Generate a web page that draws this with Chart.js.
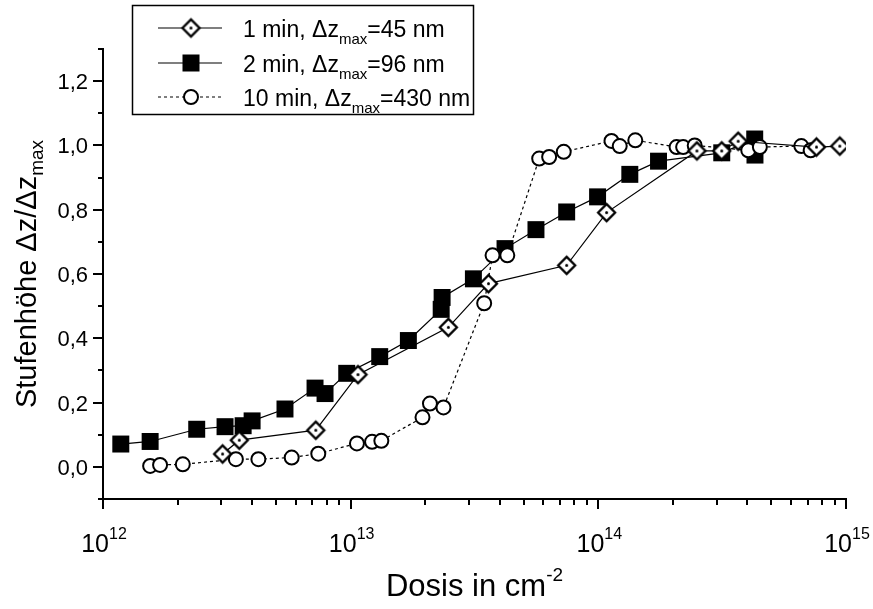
<!DOCTYPE html>
<html><head><meta charset="utf-8">
<script src="https://cdn.jsdelivr.net/npm/chart.js@4.4.1/dist/chart.umd.min.js"></script>
<style>html,body{margin:0;padding:0;background:#fff;}#wrap{width:873px;height:609px;}</style>
</head><body><div id="wrap"><canvas id="c" width="873" height="609"></canvas></div>
<script>
// ---- data (dose in cm^-2, normalized step height) ----
const dose1min = [3.04e12, 3.55e12, 7.23e12, 1.07e13, 2.48e13, 3.6e13, 7.45e13, 1.08e14, 2.5e14, 3.15e14, 3.67e14, 7.6e14, 9.44e14];
const step1min = [0.040, 0.083, 0.114, 0.287, 0.434, 0.570, 0.627, 0.791, 0.983, 0.983, 1.013, 0.995, 0.998];

const dose2min = [1.18e12, 1.55e12, 2.39e12, 3.11e12, 3.68e12, 4.0e12, 5.43e12, 7.18e12, 7.88e12, 9.64e12, 1.31e13, 1.71e13, 2.32e13, 2.34e13, 3.13e13, 4.2e13, 5.6e13, 7.45e13, 9.93e13, 1.34e14, 1.75e14, 3.15e14, 4.28e14, 4.29e14];
const step2min = [0.071, 0.079, 0.117, 0.125, 0.128, 0.143, 0.180, 0.245, 0.228, 0.291, 0.343, 0.393, 0.490, 0.527, 0.585, 0.679, 0.738, 0.793, 0.840, 0.910, 0.951, 0.977, 1.020, 0.970];

const dose10min = [1.55e12, 1.7e12, 2.1e12, 3.44e12, 4.24e12, 5.78e12, 7.4e12, 1.06e13, 1.22e13, 1.33e13, 1.95e13, 2.09e13, 2.37e13, 3.46e13, 3.74e13, 4.29e13, 5.77e13, 6.33e13, 7.25e13, 1.13e14, 1.22e14, 1.41e14, 2.07e14, 2.2e14, 2.45e14, 4.03e14, 4.49e14, 6.6e14, 7.2e14];
const step10min = [0.003, 0.006, 0.008, 0.024, 0.024, 0.029, 0.041, 0.073, 0.078, 0.081, 0.154, 0.197, 0.185, 0.509, 0.658, 0.658, 0.959, 0.964, 0.980, 1.014, 0.998, 1.016, 0.995, 0.995, 1.000, 0.985, 0.995, 0.998, 0.985];

const xTickExponents = [12, 13, 14, 15];
const xMinorMultipliers = [2, 3, 4, 5, 6, 7, 8, 9];
const yTickValues = [0.0, 0.2, 0.4, 0.6, 0.8, 1.0, 1.2];
const yTickLabels = ['0,0', '0,2', '0,4', '0,6', '0,8', '1,0', '1,2'];
const yMinorValues = [-0.1, 0.1, 0.3, 0.5, 0.7, 0.9, 1.1, 1.3];

const legendEntries = [
  {pre: '1 min, \u0394z', sub: 'max', post: '=45 nm', marker: 'diamond', dash: []},
  {pre: '2 min, \u0394z', sub: 'max', post: '=96 nm', marker: 'square', dash: []},
  {pre: '10 min, \u0394z', sub: 'max', post: '=430 nm', marker: 'circle', dash: [3, 3]}
];

const FONT = "'Liberation Sans', Arial, Helvetica, sans-serif";

// ---- marker images ----
function makeDiamond(r) {
  const s = Math.ceil(2 * r + 6);
  const c = document.createElement('canvas');
  c.width = s; c.height = s;
  const g = c.getContext('2d');
  const m = s / 2;
  g.beginPath();
  g.moveTo(m - r, m); g.lineTo(m, m - r); g.lineTo(m + r, m); g.lineTo(m, m + r); g.closePath();
  g.fillStyle = '#fff'; g.fill();
  g.lineWidth = 2.3; g.strokeStyle = '#000'; g.lineJoin = 'miter'; g.stroke();
  g.beginPath(); g.arc(m, m, 1.5, 0, Math.PI * 2); g.fillStyle = '#000'; g.fill();
  return c;
}
const diamondImg = makeDiamond(8.5);

function toPts(xs, ys) { return xs.map((x, i) => ({x: x, y: ys[i]})); }

function drawMarker(ctx, type, x, y) {
  ctx.save();
  if (type === 'diamond') {
    ctx.drawImage(diamondImg, x - diamondImg.width / 2, y - diamondImg.height / 2);
  } else if (type === 'square') {
    ctx.fillStyle = '#000';
    ctx.fillRect(x - 8.5, y - 8.5, 17, 17);
  } else {
    ctx.beginPath(); ctx.arc(x, y, 7, 0, Math.PI * 2);
    ctx.fillStyle = '#fff'; ctx.fill();
    ctx.lineWidth = 2; ctx.strokeStyle = '#000'; ctx.stroke();
  }
  ctx.restore();
}

function richWidth(ctx, parts) {
  let w = 0;
  for (const p of parts) { ctx.font = p.size + 'px ' + FONT; w += ctx.measureText(p.t).width; }
  return w;
}
function drawRich(ctx, parts, x, y) {
  let cx = x;
  for (const p of parts) {
    ctx.font = p.size + 'px ' + FONT;
    ctx.fillText(p.t, cx, y + (p.dy || 0));
    cx += ctx.measureText(p.t).width;
  }
}

const decorPlugin = {
  id: 'decor',
  afterDraw(chart) {
    const ctx = chart.ctx;
    const xs = chart.scales.x, ys = chart.scales.y;
    const area = chart.chartArea;
    ctx.save();
    ctx.strokeStyle = '#000';
    ctx.fillStyle = '#000';
    ctx.lineWidth = 2;
    ctx.lineCap = 'butt';
    ctx.beginPath();
    for (const v of yTickValues) {
      const p = Math.round(ys.getPixelForValue(v));
      ctx.moveTo(area.left, p); ctx.lineTo(area.left - 10, p);
    }
    for (const v of yMinorValues) {
      const p = Math.round(ys.getPixelForValue(v));
      ctx.moveTo(area.left, p); ctx.lineTo(area.left - 5, p);
    }
    for (const e of xTickExponents) {
      const p = Math.round(xs.getPixelForValue(Math.pow(10, e)));
      ctx.moveTo(p, area.bottom); ctx.lineTo(p, area.bottom + 10);
      if (e < xTickExponents[xTickExponents.length - 1]) {
        for (const m of xMinorMultipliers) {
          const q = Math.round(xs.getPixelForValue(m * Math.pow(10, e)));
          ctx.moveTo(q, area.bottom); ctx.lineTo(q, area.bottom + 6);
        }
      }
    }
    ctx.stroke();

    // y tick labels
    ctx.font = '22px ' + FONT;
    ctx.textAlign = 'right';
    ctx.textBaseline = 'alphabetic';
    yTickValues.forEach((v, i) => {
      const p = ys.getPixelForValue(v);
      ctx.fillText(yTickLabels[i], area.left - 15, p + 8);
    });
    ctx.textAlign = 'left';

    // x tick labels 10^n
    for (const e of xTickExponents) {
      const p = xs.getPixelForValue(Math.pow(10, e));
      const parts = [{t: '10', size: 25, dy: 0}, {t: String(e), size: 16, dy: -13}];
      const w = richWidth(ctx, parts);
      drawRich(ctx, parts, p - w / 2 + 1, area.bottom + 53);
    }

    // x title
    const xt = [{t: 'Dosis in cm', size: 31, dy: 0}, {t: '-2', size: 19, dy: -15}];
    const xw = richWidth(ctx, xt);
    drawRich(ctx, xt, (area.left + area.right) / 2 - xw / 2, area.bottom + 97);

    // y title (rotated)
    const yt = [{t: 'Stufenh\u00f6he \u0394z/\u0394z', size: 29, dy: 0}, {t: 'max', size: 19, dy: 7}];
    const yw = richWidth(ctx, yt);
    ctx.save();
    ctx.translate(36, (area.top + area.bottom) / 2);
    ctx.rotate(-Math.PI / 2);
    drawRich(ctx, yt, -yw / 2, 0);
    ctx.restore();

    // legend
    ctx.lineWidth = 1.5;
    ctx.strokeRect(132.5, 5.5, 341, 109);
    const rows = [28, 63, 97];
    legendEntries.forEach((en, i) => {
      const y = rows[i];
      ctx.save();
      ctx.lineWidth = 1.2;
      ctx.setLineDash(en.dash);
      ctx.beginPath(); ctx.moveTo(158, y); ctx.lineTo(222, y); ctx.stroke();
      ctx.restore();
      drawMarker(ctx, en.marker, 191, y);
      drawRich(ctx, [{t: en.pre, size: 23, dy: 0}, {t: en.sub, size: 15, dy: 7}, {t: en.post, size: 23, dy: 0}], 243, y + 8.5);
    });
    ctx.restore();
  }
};

new Chart(document.getElementById('c'), {
  type: 'line',
  data: {
    datasets: [
      {label: '1 min', data: toPts(dose1min, step1min), borderColor: '#000', borderWidth: 1.2,
       pointStyle: diamondImg, pointRadius: 9, tension: 0, fill: false},
      {label: '10 min', data: toPts(dose10min, step10min), borderColor: '#000', borderWidth: 1.2, borderDash: [3, 3],
       pointStyle: 'circle', pointRadius: 7, pointBorderWidth: 2, pointBackgroundColor: '#fff', pointBorderColor: '#000', tension: 0, fill: false},
      {label: '2 min', data: toPts(dose2min, step2min), borderColor: '#000', borderWidth: 1.2,
       pointStyle: 'rect', pointRadius: 12, pointBorderWidth: 0, pointBackgroundColor: '#000', pointBorderColor: '#000', tension: 0, fill: false}
    ]
  },
  options: {
    responsive: false,
    devicePixelRatio: 1,
    animation: false,
    layout: {padding: {top: 49, right: 27, left: 0, bottom: 0}},
    plugins: {legend: {display: false}, tooltip: {enabled: false}},
    scales: {
      x: {type: 'logarithmic', min: 1e12, max: 1e15,
          ticks: {display: false}, grid: {display: false},
          border: {display: true, color: '#000', width: 2},
          afterFit: (s) => { s.height = 110; }},
      y: {type: 'linear', min: -0.1, max: 1.3,
          ticks: {display: false}, grid: {display: false},
          border: {display: true, color: '#000', width: 2},
          afterFit: (s) => { s.width = 103; }}
    }
  },
  plugins: [decorPlugin]
});
</script></body></html>
